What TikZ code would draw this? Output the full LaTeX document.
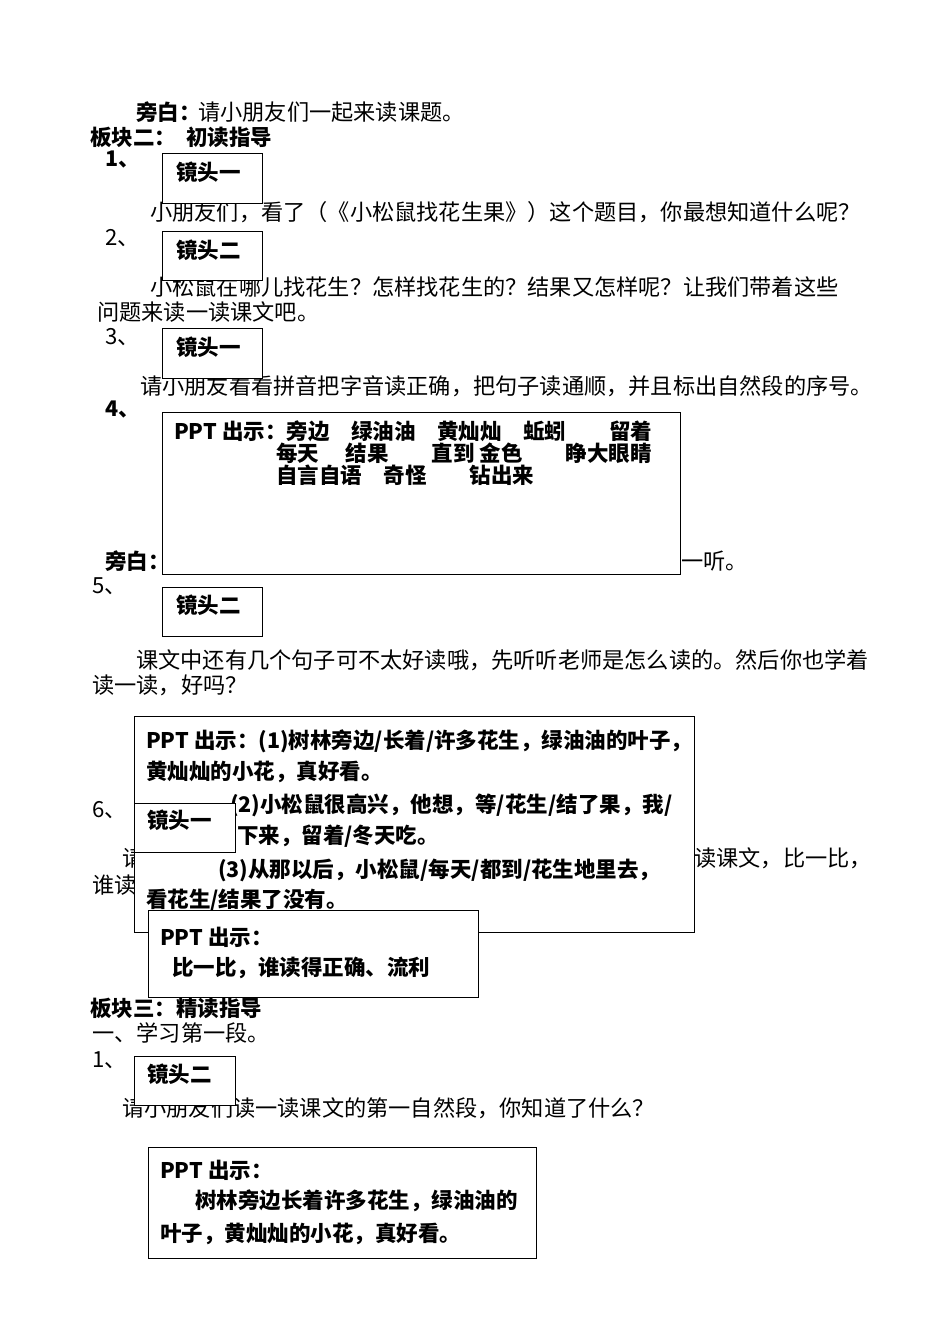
\documentclass[tikz,border=0pt]{standalone}
\usepackage{fontspec}
\setmainfont{Noto Sans CJK SC}
\begin{document}
\begin{tikzpicture}[x=1pt,y=-1pt,
 t/.style={anchor=west,inner sep=0,font=\fontsize{22.2}{22}\selectfont},
 b/.style={anchor=west,inner sep=0,font=\fontsize{21.5}{21}\selectfont\bfseries},
 p/.style={anchor=west,inner sep=0,font=\fontsize{21.5}{21}\selectfont\bfseries},
 bx/.style={draw,fill=white,line width=1pt}]
\useasboundingbox (0,0) rectangle (950,1344);
% background text
\node[b] (n0) at (136,112) {旁白：};
\node[t] (n0b) at (198,112) {请小朋友们一起来读课题。};
\node[b] (s2) at (90,137) {板块二：\ \ 初读指导};
\node[b] (k1) at (105,160) {1、};
\node[t] (l1) at (150,212) {小朋友们，看了（《小松鼠找花生果》）这个题目，你最想知道什么呢？};
\node[t] (k2) at (105,238) {2、};
\node[t] (l2) at (150,287) {小松鼠在哪儿找花生？怎样找花生的？结果又怎样呢？让我们带着这些};
\node[t] (l2b) at (97,312) {问题来读一读课文吧。};
\node[t] (k3) at (105,337) {3、};
\node[t] (l3) at (140,386) {请小朋友看看拼音把字音读正确，把句子读通顺，并且标出自然段的序号。};
\node[b] (k4) at (105,410) {\itshape 4、};
\node[b] (pb) at (105,561) {旁白：};
\node[t] (yt) at (681,561) {一听。};
\node[t] (k5) at (92,586) {5、};
\node[t] (l5) at (136,660) {课文中还有几个句子可不太好读哦，先听听老师是怎么读的。然后你也学着};
\node[t] (l5b) at (92,685) {读一读，好吗？};
\node[t] (k6) at (92,810) {6、};
\node[t] (l6) at (122,858) {请};
\node[t] (l6x) at (694,858) {读课文，比一比，};
\node[t] (l6b) at (92,885) {谁读};
\node[b] (s3) at (90,1008) {板块三：精读指导};
\node[t] (s3a) at (92,1033) {一、学习第一段。};
\node[t] (k7) at (92,1060) {1、};
\node[t] (l7) at (122,1108) {请小朋友们读一读课文的第一自然段，你知道了什么？};
% boxes
\draw[bx] (162,153) rectangle (262,203); \node[b] (c1) at (176,172) {镜头一};
\draw[bx] (162,231) rectangle (262,280); \node[b] (c2) at (176,250) {镜头二};
\draw[bx] (162,328) rectangle (262,378); \node[b] (c3) at (176,347) {镜头一};
\draw[bx] (162,412) rectangle (680,574);
\node[p] (q1) at (174,431) {PPT 出示：旁边\quad 绿油油\quad 黄灿灿\quad 蚯蚓\qquad 留着};
\node[p] (q2) at (276,453) {每天\quad\ 结果\qquad 直到 金色\qquad 睁大眼睛};
\node[p] (q3) at (276,475) {自言自语\quad 奇怪\qquad 钻出来};
\draw[bx] (162,587) rectangle (262,636); \node[b] (c4) at (176,605) {镜头二};
\draw[bx] (134,716) rectangle (694,932);
\node[p] (r1) at (146,741) {PPT 出示：(1)树林旁边/长着/许多花生，绿油油的叶子，};
\node[p] (r2) at (146,772) {黄灿灿的小花，真好看。};
\node[p] (r3) at (230,805) {(2)小松鼠很高兴，他想，等/花生/结了果，我/};
\node[p] (r4) at (237,836) {下来，留着/冬天吃。};
\node[p] (r5) at (218,870) {(3)从那以后，小松鼠/每天/都到/花生地里去，};
\node[p] (r6) at (146,900) {看花生/结果了没有。};
\draw[bx] (134,803) rectangle (235,852); \node[b] (c5) at (147,820) {镜头一};
\draw[bx] (148,910) rectangle (478,997);
\node[p] (u1) at (160,937) {PPT 出示：};
\node[b] (u2) at (172,968) {比一比，谁读得正确、流利};
\draw[bx] (134,1056) rectangle (235,1105); \node[b] (c6) at (147,1074) {镜头二};
\draw[bx] (148,1147) rectangle (536,1258);
\node[p] (v1) at (160,1170) {PPT 出示：};
\node[p] (v2) at (195,1201) {树林旁边长着许多花生，绿油油的};
\node[p] (v3) at (160,1234) {叶子，黄灿灿的小花，真好看。};
\end{tikzpicture}
\end{document}
